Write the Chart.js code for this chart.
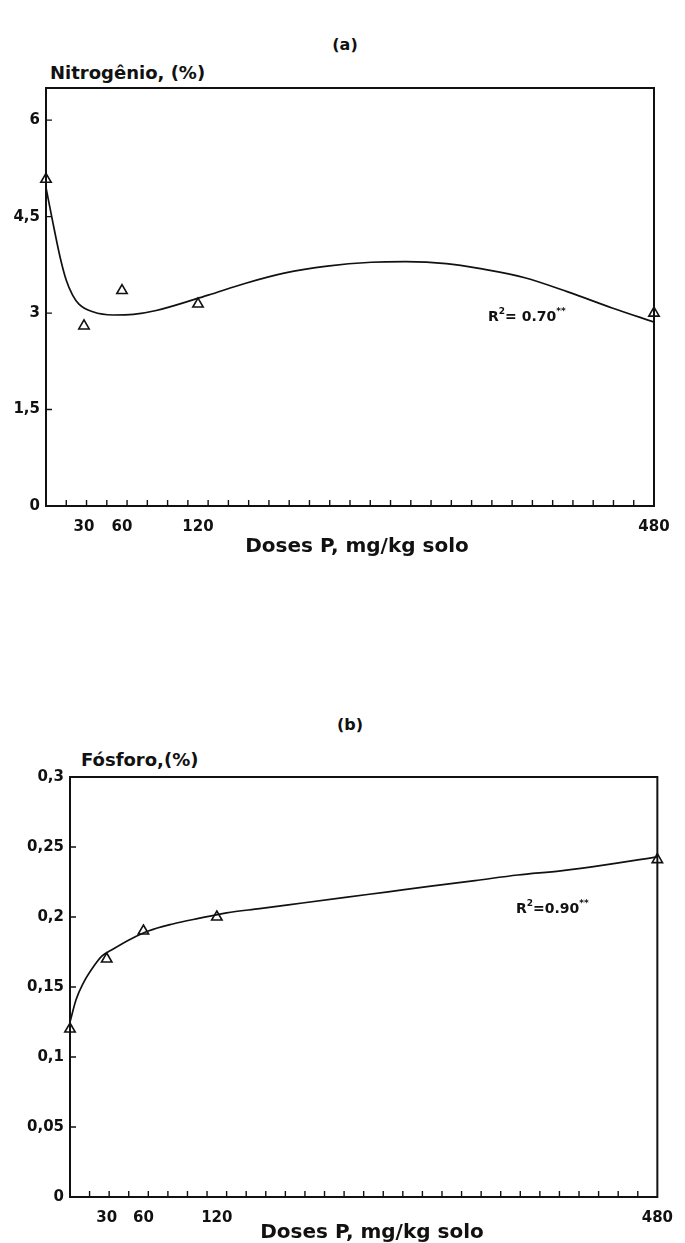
<!DOCTYPE html>
<html lang="pt">
<head>
  <meta charset="UTF-8" />
  <title>Nitrogênio e Fósforo x Doses P</title>
  <script src="https://cdn.jsdelivr.net/npm/chart.js"></script>
  <style>
    body {
      margin: 0;
      background: #fff;
      font-family: "DejaVu Sans", sans-serif;
      color: #111;
    }

    .page {
      position: relative;
      width: 685px;
      height: 1243px;
      overflow: hidden;
    }

    .box {
      position: absolute;
      left: 0;
      width: 685px;
    }

    #boxA { top: 0; height: 560px; }
    #boxB { top: 680px; height: 563px; }

    .txt {
      position: absolute;
      font-weight: bold;
      white-space: nowrap;
      line-height: 1;
    }

    .center { transform: translateX(-50%); }
    .panel { font-size: 16px; }
    .ytitle { font-size: 18px; }
    .xtitle { font-size: 20px; }
    .r2 { font-size: 14px; }
    .r2 sup { font-size: 9px; vertical-align: 7px; }
  </style>
</head>
<body>
<div class="page">

  <!-- (a) Nitrogênio -->
  <div class="txt panel center" style="left:345px; top:37px;">(a)</div>
  <div class="txt ytitle" style="left:50px; top:64px;">Nitrogênio, (%)</div>
  <div class="box" id="boxA"><canvas id="chartA"></canvas></div>
  <div class="txt r2" style="left:488px; top:307px;">R<sup>2</sup>= 0.70<sup>**</sup></div>
  <div class="txt xtitle center" style="left:357px; top:535px;">Doses P, mg/kg solo</div>

  <!-- (b) Fósforo -->
  <div class="txt panel center" style="left:350px; top:717px;">(b)</div>
  <div class="txt ytitle" style="left:81px; top:751px;">Fósforo,(%)</div>
  <div class="box" id="boxB"><canvas id="chartB"></canvas></div>
  <div class="txt r2" style="left:516px; top:899px;">R<sup>2</sup>=0.90<sup>**</sup></div>
  <div class="txt xtitle center" style="left:372px; top:1221px;">Doses P, mg/kg solo</div>

</div>

<script>
  // Data
  const doses = [0, 30, 60, 120, 480];
  const nitrogenio = [5.08, 2.80, 3.35, 3.14, 3.00];
  const fosforo = [0.12, 0.17, 0.19, 0.20, 0.241];

  // fitted curves
  const nCurveX = [0, 5, 11, 16, 21, 26, 37, 53, 69, 87, 128, 157, 188, 222, 257, 284, 316, 343, 378, 412, 447, 480];
  const nCurveY = [4.95, 4.45, 3.88, 3.51, 3.28, 3.14, 3.02, 2.97, 2.98, 3.04, 3.28, 3.46, 3.62, 3.73, 3.79, 3.80, 3.77, 3.69, 3.55, 3.33, 3.08, 2.86];
  const pCurveX = [0, 5, 11, 18, 26, 35, 49, 64, 84, 105, 128, 155, 190, 225, 260, 295, 331, 366, 401, 436, 480];
  const pCurveY = [0.125, 0.141, 0.153, 0.163, 0.172, 0.177, 0.184, 0.190, 0.195, 0.199, 0.203, 0.206, 0.210, 0.214, 0.218, 0.222, 0.226, 0.230, 0.233, 0.237, 0.243];

  // Ticks
  const doseTicks = [30, 60, 120, 480];
  const nTicks = [0, 1.5, 3, 4.5, 6];
  const pTicks = [0, 0.05, 0.1, 0.15, 0.2, 0.25, 0.3];
  const minorStep = 16; // 30 small marks along the dose axis

  const ink = '#111';
  const tickFont = { family: 'DejaVu Sans', size: 15, weight: 'bold' };

  const toPoints = (xs, ys) => xs.map((x, i) => ({ x: x, y: ys[i] }));
  const comma = v => String(v).replace('.', ',');

  // box around the plot + small inner tick marks
  const frame = {
    id: 'frame',
    afterDatasetsDraw(chart, args, opts) {
      const { ctx, chartArea: a, scales } = chart;
      const x = scales.x, y = scales.y;
      ctx.save();
      ctx.strokeStyle = ink;
      ctx.lineWidth = 1.4;
      ctx.beginPath();
      for (let v = minorStep; v < x.max; v += minorStep) {
        const px = x.getPixelForValue(v);
        ctx.moveTo(px, a.bottom);
        ctx.lineTo(px, a.bottom - 6);
      }
      opts.yTicks.forEach(v => {
        if (v <= y.min) return;
        const py = y.getPixelForValue(v);
        ctx.moveTo(a.left, py);
        ctx.lineTo(a.left + 6, py);
      });
      ctx.stroke();
      ctx.lineWidth = 2;
      ctx.strokeRect(a.left, a.top, a.right - a.left, a.bottom - a.top);
      ctx.restore();
    }
  };

  function makeChart(id, curveX, curveY, values, yTicks, yMax, box) {
    return new Chart(document.getElementById(id), {
      type: 'scatter',
      data: {
        datasets: [{
          data: toPoints(curveX, curveY),
          showLine: true,
          borderColor: ink,
          borderWidth: 1.7,
          pointRadius: 0,
          cubicInterpolationMode: 'monotone'
        }, {
          data: toPoints(doses, values),
          pointStyle: 'triangle',
          pointRadius: 6,
          pointBackgroundColor: '#fff',
          pointBorderColor: ink,
          pointBorderWidth: 1.6,
          clip: false
        }]
      },
      options: {
        responsive: true,
        maintainAspectRatio: false,
        animation: false,
        events: [],
        layout: { padding: { top: box.top, right: box.right, left: 0, bottom: 0 } },
        plugins: {
          legend: { display: false },
          tooltip: { enabled: false },
          frame: { yTicks: yTicks }
        },
        scales: {
          x: {
            type: 'linear',
            min: 0,
            max: 480,
            grid: { display: false, drawTicks: false },
            border: { display: false },
            afterBuildTicks: s => { s.ticks = doseTicks.map(v => ({ value: v })); },
            afterFit: s => { s.height = box.xHeight; },
            ticks: { color: ink, font: tickFont, padding: 12, maxRotation: 0, autoSkip: false }
          },
          y: {
            min: 0,
            max: yMax,
            grid: { display: false, drawTicks: false },
            border: { display: false },
            afterBuildTicks: s => { s.ticks = yTicks.map(v => ({ value: v })); },
            afterFit: s => { s.width = box.yWidth; },
            ticks: { color: ink, font: tickFont, padding: 6, callback: v => comma(v) }
          }
        }
      },
      plugins: [frame]
    });
  }

  makeChart('chartA', nCurveX, nCurveY, nitrogenio, nTicks, 6.5,
    { top: 88, right: 31, xHeight: 54, yWidth: 46 });
  makeChart('chartB', pCurveX, pCurveY, fosforo, pTicks, 0.3,
    { top: 97, right: 18, xHeight: 46, yWidth: 70 });
</script>
</body>
</html>
